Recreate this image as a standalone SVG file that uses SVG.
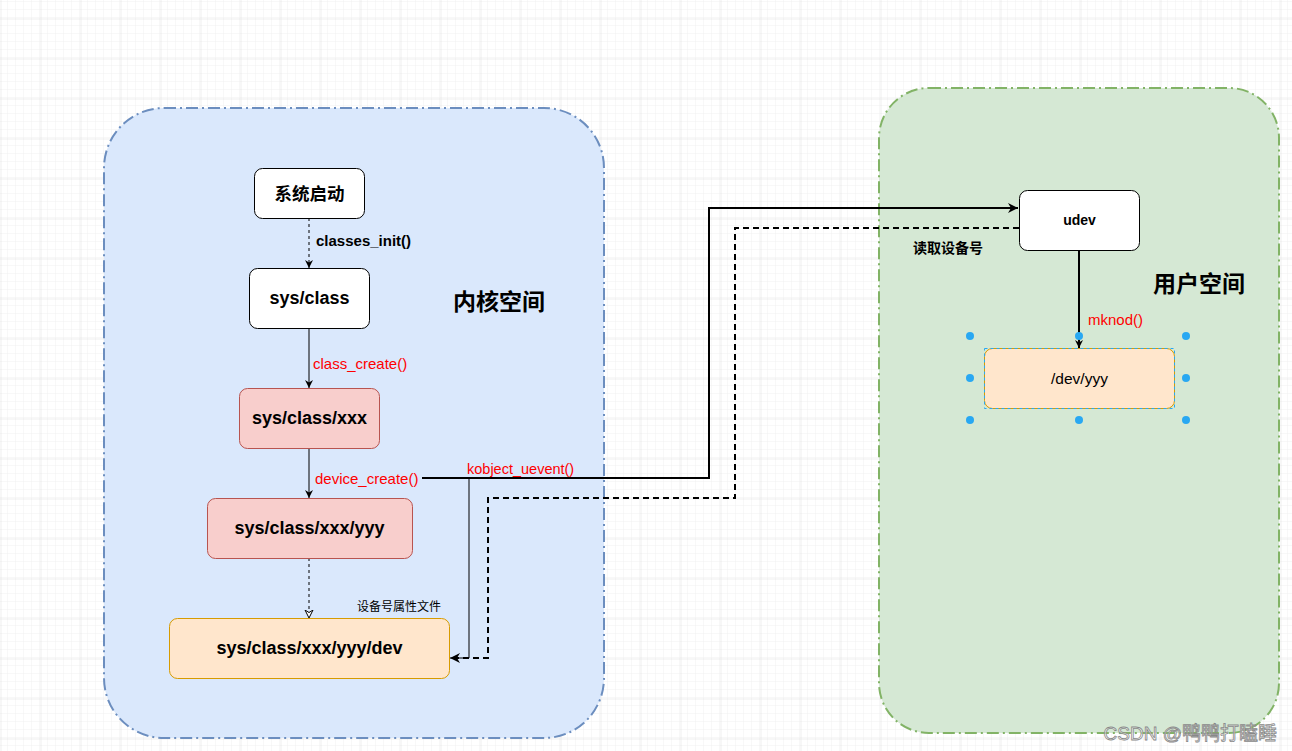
<svg xmlns="http://www.w3.org/2000/svg" width="1292" height="751" viewBox="0 0 1292 751">
<style>
.t{font-family:"Liberation Sans","Noto Sans CJK SC",sans-serif;}
.nt{font-family:"Liberation Sans","Noto Sans CJK SC",sans-serif;font-weight:bold;font-size:18px;text-anchor:middle;fill:#000}
.red{fill:#ff0000;font-size:15px}
.c{fill:none;stroke:#000}
.h{fill:#29a8f2}
</style>
<defs>
<pattern id="minor" width="8" height="8" patternUnits="userSpaceOnUse" x="0" y="2">
<path d="M8 0V8M0 8H8" fill="none" stroke="#f0f0f0" stroke-width="1"/>
</pattern>
<pattern id="major" width="40" height="40" patternUnits="userSpaceOnUse" x="0.5" y="18.5">
<path d="M0 0V40M0 0H40" fill="none" stroke="#dedede" stroke-width="1"/>
</pattern>
<marker id="arr" markerWidth="12" markerHeight="12" refX="10" refY="6" orient="auto" markerUnits="userSpaceOnUse">
<path d="M0 1 L10 6 L0 11 L3 6 Z" fill="#000"/>
</marker>
<marker id="arrs" markerWidth="10" markerHeight="10" refX="8" refY="5" orient="auto" markerUnits="userSpaceOnUse">
<path d="M0 1 L8 5 L0 9 L2.5 5 Z" fill="#000"/>
</marker>
<marker id="open" markerWidth="10" markerHeight="10" refX="8" refY="5" orient="auto" markerUnits="userSpaceOnUse">
<path d="M0 1 L8 5 L0 9 L2.5 5 Z" fill="#fff" stroke="#000" stroke-width="1"/>
</marker>
</defs>
<rect width="1292" height="751" fill="#fff"/>
<rect width="1292" height="751" fill="url(#minor)"/>
<rect width="1292" height="751" fill="url(#major)"/>

<g id="kernel-space">
<rect x="104" y="108" width="500" height="630" rx="60" fill="#dae8fc" stroke="#6c8ebf" stroke-width="2" stroke-dasharray="12 4 2 4"/>
<text class="t" x="499" y="310" font-size="23" font-weight="bold" text-anchor="middle">内核空间</text>
</g>
<g id="user-space">
<rect x="879" y="88" width="400" height="645" rx="50" fill="#d5e8d4" stroke="#82b366" stroke-width="2" stroke-dasharray="12 4 2 4"/>
<text class="t" x="1199" y="292" font-size="23" font-weight="bold" text-anchor="middle">用户空间</text>
</g>

<g id="connectors">
<line class="c" x1="309" y1="218" x2="309" y2="268" stroke-dasharray="3 3" marker-end="url(#arrs)"/>
<line class="c" x1="309" y1="328" x2="309" y2="388" marker-end="url(#arrs)"/>
<line class="c" x1="309" y1="448" x2="309" y2="498" marker-end="url(#arrs)"/>
<line class="c" x1="309" y1="558" x2="309" y2="618" stroke-dasharray="3 3" marker-end="url(#open)"/>
<path class="c" d="M422 478 H709 V208 H1018" stroke-width="2" marker-end="url(#arr)"/>
<path class="c" d="M469 478 V658 H450" stroke-width="1" marker-end="url(#arr)"/>
<path class="c" d="M1019 228 H735 V498 H488 V658 H452" stroke-width="2" stroke-dasharray="6 4"/>
<line class="c" x1="1079" y1="250" x2="1079" y2="348" stroke-width="2" marker-end="url(#arrs)"/>
<text class="t" x="316" y="246" font-size="15" font-weight="bold" fill="#000">classes_init()</text>
<text class="t red" x="313" y="369">class_create()</text>
<text class="t red" x="315" y="484">device_create()</text>
<text class="t red" x="467" y="474" style="font-size:14.5px">kobject_uevent()</text>
<text class="t" x="357" y="611" font-size="12" fill="#000">设备号属性文件</text>
<text class="t" x="913" y="253" font-size="14" font-weight="bold" fill="#000">读取设备号</text>
<text class="t red" x="1088" y="325">mknod()</text>
</g>

<g id="n-boot">
<rect x="254.5" y="168.5" width="110" height="50" rx="8" fill="#fff" stroke="#000"/>
<text class="nt" x="309.5" y="200" style="font-size:17.5px">系统启动</text>
</g>
<g id="n-sysclass">
<rect x="249.5" y="268.5" width="120" height="60" rx="8" fill="#fff" stroke="#000"/>
<text class="nt" x="309.5" y="304">sys/class</text>
</g>
<g id="n-xxx">
<rect x="239.5" y="388.5" width="140" height="60" rx="8" fill="#f8cecc" stroke="#b85450"/>
<text class="nt" x="309.5" y="424">sys/class/xxx</text>
</g>
<g id="n-yyy">
<rect x="207.5" y="498.5" width="205" height="60" rx="8" fill="#f8cecc" stroke="#b85450"/>
<text class="nt" x="309.5" y="534">sys/class/xxx/yyy</text>
</g>
<g id="n-dev">
<rect x="169.5" y="618.5" width="280" height="60" rx="8" fill="#ffe6cc" stroke="#d79b00"/>
<text class="nt" x="309.5" y="654">sys/class/xxx/yyy/dev</text>
</g>
<g id="n-udev">
<rect x="1019.5" y="190.5" width="120" height="60" rx="8" fill="#fff" stroke="#000"/>
<text class="nt" x="1079.5" y="225" style="font-size:14px">udev</text>
</g>
<g id="n-devyyy">
<rect x="984.5" y="348.5" width="190" height="60" rx="8" fill="#ffe6cc" stroke="#d79b00"/>
<rect x="984.5" y="348.5" width="190" height="60" fill="none" stroke="#29a8f2" stroke-dasharray="3 3"/>
<text class="nt" x="1079.5" y="384" style="font-size:15.5px;font-weight:normal">/dev/yyy</text>
<circle class="h" cx="970" cy="336" r="4"/>
<circle class="h" cx="1079" cy="336" r="4"/>
<circle class="h" cx="1186" cy="336" r="4"/>
<circle class="h" cx="970" cy="378" r="4"/>
<circle class="h" cx="1186" cy="378" r="4"/>
<circle class="h" cx="970" cy="420" r="4"/>
<circle class="h" cx="1079" cy="420" r="4"/>
<circle class="h" cx="1186" cy="420" r="4"/>
</g>
<text class="t" x="1277" y="740" font-size="19" text-anchor="end" fill="#fff" fill-opacity="0.6" stroke="#888" stroke-width="0.8">CSDN @鸭鸭打瞌睡</text>
</svg>
